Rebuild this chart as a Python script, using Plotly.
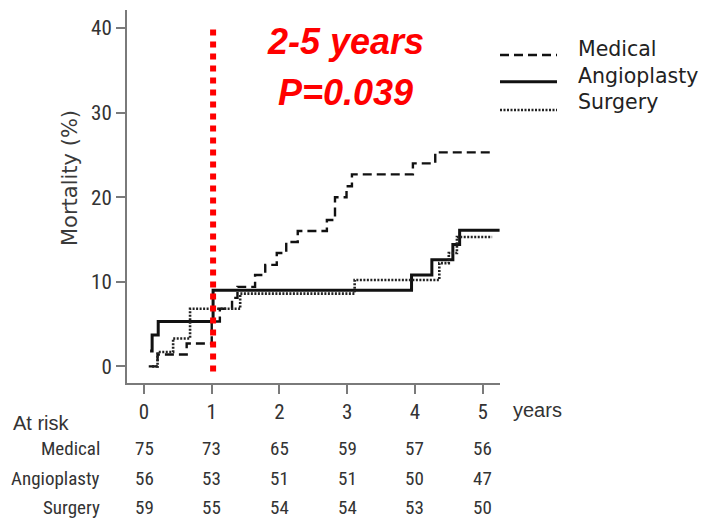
import plotly.graph_objects as go

# Cumulative mortality (%) step curves, time in years
med_t = [0.07, 0.20, 0.63, 1.00, 1.12, 1.30, 1.38, 1.64, 1.79, 1.96, 2.10, 2.27, 2.70, 2.82, 2.99, 3.07, 3.97, 4.30, 5.14]
med_y = [0.0, 1.4, 2.7, 5.3, 6.8, 8.1, 9.4, 10.8, 12.0, 13.4, 14.7, 16.0, 17.3, 20.0, 21.3, 22.7, 24.0, 25.3, 25.3]

ang_t = [0.09, 0.12, 0.21, 1.02, 3.95, 4.25, 4.56, 4.66, 5.25]
ang_y = [1.8, 3.7, 5.3, 9.0, 10.8, 12.6, 14.4, 16.1, 16.1]

sur_t = [0.12, 0.20, 0.43, 0.68, 1.42, 3.11, 4.36, 4.50, 4.62, 5.14]
sur_y = [0.0, 1.7, 3.3, 6.8, 8.6, 10.2, 12.2, 13.4, 15.3, 15.3]

# Landmark separating the early period from the 2-5 year analysis
landmark_t = 1.02
landmark_y = [-0.6, 40.0]

# Number at risk table
risk_years = [0, 1, 2, 3, 4, 5]
risk_groups = ["Medical", "Angioplasty", "Surgery"]
risk_medical = [75, 73, 65, 59, 57, 56]
risk_angioplasty = [56, 53, 51, 51, 50, 47]
risk_surgery = [59, 55, 54, 54, 53, 50]

x_ticks = [0, 1, 2, 3, 4, 5]
y_ticks = [0, 10, 20, 30, 40]

NARROW = "Liberation Sans Narrow, Arial Narrow, Roboto Condensed, Liberation Sans, sans-serif"
SANS = "Liberation Sans, Arial, sans-serif"
WIDE = "DejaVu Sans, Verdana, sans-serif"
INK = "#111111"
GREY = "#333333"
AXIS = "#7a7a7a"

fig = go.Figure()

fig.add_trace(go.Scatter(x=med_t, y=med_y, mode="lines", name="Medical",
                         line=dict(shape="hv", color=INK, width=2.4, dash="9px,5px")))
fig.add_trace(go.Scatter(x=ang_t, y=ang_y, mode="lines", name="Angioplasty",
                         line=dict(shape="hv", color=INK, width=3)))
fig.add_trace(go.Scatter(x=sur_t, y=sur_y, mode="lines", name="Surgery",
                         line=dict(shape="hv", color="#222222", width=2.6, dash="2px,1.5px")))
fig.add_trace(go.Scatter(x=[landmark_t, landmark_t], y=landmark_y, mode="lines",
                         line=dict(color="#ff0000", width=6, dash="6px,6px"), showlegend=False))

# Plot area in pixels: left 127, right 500, top 10, bottom 383
L, R, T, B = 127, 500, 10, 383
W, H = 702, 518


def px_x(p):
    return (p - L) / (R - L)


def px_y(p):
    return (B - p) / (B - T)


annotations = []

# Period / p-value label
annotations.append(dict(x=2.98, y=px_y(42), xref="x", yref="paper", text="<b><i>2-5 years</i></b>",
                        showarrow=False, font=dict(family=SANS, size=36, color="#ff0000"),
                        xanchor="center", yanchor="middle"))
annotations.append(dict(x=2.98, y=px_y(92), xref="x", yref="paper", text="<b><i>P=0.039</i></b>",
                        showarrow=False, font=dict(family=SANS, size=36, color="#ff0000"),
                        xanchor="center", yanchor="middle"))

# Y axis title, placed beside the axis
annotations.append(dict(x=px_x(70), y=px_y(178), xref="paper", yref="paper", text="Mortality (%)",
                        textangle=-90, showarrow=False, xanchor="center", yanchor="middle",
                        font=dict(family=WIDE, size=21, color="#3a3a3a")))

# Legend: line samples plus one multi-line label block
legend_styles = [dict(dash="9px,5px", width=2.4, color=INK),
                 dict(dash="solid", width=3, color=INK),
                 dict(dash="2px,1.5px", width=2.6, color="#222222")]
legend_line_y = [55, 81.7, 110]
shapes = []
for style, ly in zip(legend_styles, legend_line_y):
    shapes.append(dict(type="line", xref="paper", yref="paper", x0=px_x(500), x1=px_x(557),
                       y0=px_y(ly), y1=px_y(ly), line=style))
annotations.append(dict(x=px_x(576), y=px_y(75), xref="paper", yref="paper",
                        text="<br>".join(risk_groups), align="left",
                        showarrow=False, xanchor="left", yanchor="middle",
                        font=dict(family=WIDE, size=20.5, color="#222222")))

# Axis unit label
annotations.append(dict(x=px_x(511), y=px_y(410), xref="paper", yref="paper", text="years",
                        showarrow=False, xanchor="left", yanchor="middle",
                        font=dict(family=SANS, size=20, color=GREY)))

# Number-at-risk table
annotations.append(dict(x=px_x(11), y=px_y(423), xref="paper", yref="paper", text="At risk",
                        showarrow=False, xanchor="left", yanchor="middle",
                        font=dict(family=SANS, size=20, color=GREY)))
row_y = [448.5, 478, 507.5]
for name, counts, ry in zip(risk_groups, [risk_medical, risk_angioplasty, risk_surgery], row_y):
    annotations.append(dict(x=px_x(102), y=px_y(ry), xref="paper", yref="paper", text=name,
                            showarrow=False, xanchor="right", yanchor="middle",
                            font=dict(family=NARROW, size=19, color=GREY)))
    for yr, n in zip(risk_years, counts):
        annotations.append(dict(x=yr, y=px_y(ry), xref="x", yref="paper", text=str(n),
                                showarrow=False, xanchor="center", yanchor="middle",
                                font=dict(family=NARROW, size=19, color=GREY)))

fig.update_layout(
    width=W, height=H,
    margin=dict(l=L, r=W - R, t=T, b=H - B),
    paper_bgcolor="white", plot_bgcolor="white",
    showlegend=False,
    annotations=annotations,
    shapes=shapes,
    xaxis=dict(range=[-0.251, 5.256], tickvals=x_ticks, ticks="outside", ticklen=9,
               tickwidth=1.5, tickcolor=AXIS, showline=True, linecolor=AXIS, linewidth=2,
               showgrid=False, zeroline=False,
               tickfont=dict(family=NARROW, size=21, color=GREY)),
    yaxis=dict(range=[-1.97, 42.13], tickvals=y_ticks, ticks="outside", ticklen=9,
               tickwidth=1.5, tickcolor=AXIS, showline=True, linecolor=AXIS, linewidth=2,
               showgrid=False, zeroline=False,
               tickfont=dict(family=NARROW, size=21, color=GREY)),
)

fig.write_html("out.html")
